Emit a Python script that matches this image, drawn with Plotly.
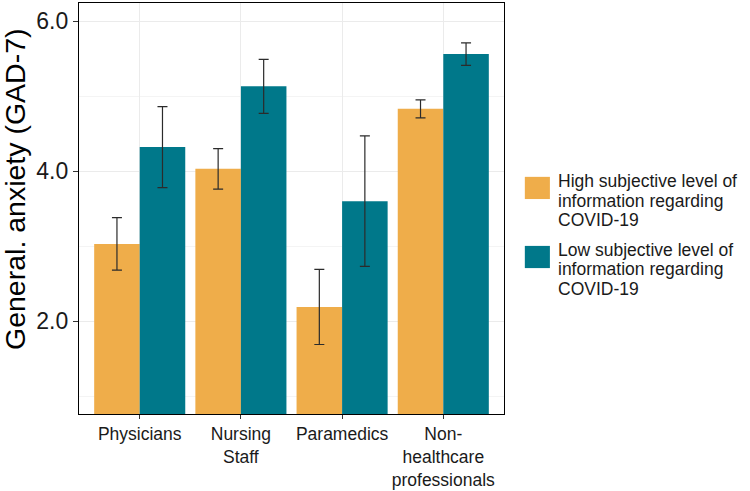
"""Generalized anxiety (GAD-7) by profession and subjective information level."""

import plotly.graph_objects as go

professions = ["Physicians", "Nursing<br>Staff", "Paramedics", "Non-<br>healthcare<br>professionals"]

high_info = [3.03, 4.03, 2.19, 4.83]
high_err = [0.35, 0.27, 0.50, 0.12]

low_info = [4.32, 5.13, 3.60, 5.56]
low_err = [0.54, 0.36, 0.87, 0.15]

series_names = [
    ["High subjective level of", "information regarding", "COVID-19"],
    ["Low subjective level of", "information regarding", "COVID-19"],
]

orange = "#EFAD4A"
teal = "#00788A"
font = "Arial, Liberation Sans, sans-serif"

fig = go.Figure()
for vals, errs, color, name in [
    (high_info, high_err, orange, series_names[0]),
    (low_info, low_err, teal, series_names[1]),
]:
    fig.add_trace(
        go.Bar(
            x=professions,
            y=vals,
            name=" ".join(name),
            marker=dict(color=color, line=dict(width=0)),
            error_y=dict(type="data", array=errs, color="#2b2b2b", thickness=1.2, width=5),
        )
    )

# hand-made legend with big keys like the ggplot original
key_y = [(0.577, 0.523), (0.409, 0.355)]
text_y = [[0.566, 0.519, 0.471], [0.400, 0.353, 0.305]]
for i, color in enumerate([orange, teal]):
    fig.add_shape(
        type="rect", xref="paper", yref="paper",
        x0=1.049, x1=1.108, y0=key_y[i][1], y1=key_y[i][0],
        fillcolor=color, line=dict(width=0),
    )
    for line, ty in zip(series_names[i], text_y[i]):
        fig.add_annotation(
            text=line, xref="paper", yref="paper", x=1.122, y=ty,
            xanchor="left", yanchor="middle", showarrow=False,
            font=dict(size=17.5, color="#1a1a1a", family=font),
        )

# y title as annotation so it sits where ggplot put it
fig.add_annotation(
    text="General. anxiety (GAD-7)", xref="paper", yref="paper",
    x=-0.151, y=0.547, textangle=-90, showarrow=False,
    xanchor="center", yanchor="middle",
    font=dict(size=28.5, color="black", family=font),
)

fig.update_layout(
    width=750,
    height=491,
    barmode="group",
    bargap=0.1,
    bargroupgap=0,
    showlegend=False,
    plot_bgcolor="white",
    paper_bgcolor="white",
    margin=dict(l=79, r=246, t=3, b=77, autoexpand=False),
    font=dict(family=font, color="#1a1a1a"),
)
fig.update_xaxes(
    range=[-0.6, 3.6], automargin=False,
    showline=True, mirror=True, linecolor="black", linewidth=1.3,
    showgrid=True, gridcolor="#EBEBEB", gridwidth=1,
    ticks="outside", ticklen=4, tickcolor="#333333",
    tickfont=dict(size=17.5, color="#1a1a1a"),
)
fig.update_yaxes(
    range=[0.764, 6.24], automargin=False,
    tick0=0, dtick=2, tickformat=".1f",
    showline=True, mirror=True, linecolor="black", linewidth=1.3,
    showgrid=True, gridcolor="#EBEBEB", gridwidth=1,
    minor=dict(tick0=0, dtick=1, showgrid=True, gridcolor="#F4F4F4", gridwidth=1),
    ticks="outside", ticklen=5, tickcolor="#333333",
    tickfont=dict(size=23, color="#1a1a1a"),
    zeroline=False,
)

# the page's default body margin would shift the figure by 8px
fig.write_html(
    "out.html",
    config={"displayModeBar": False},
    post_script="document.body.style.margin='0';",
)
